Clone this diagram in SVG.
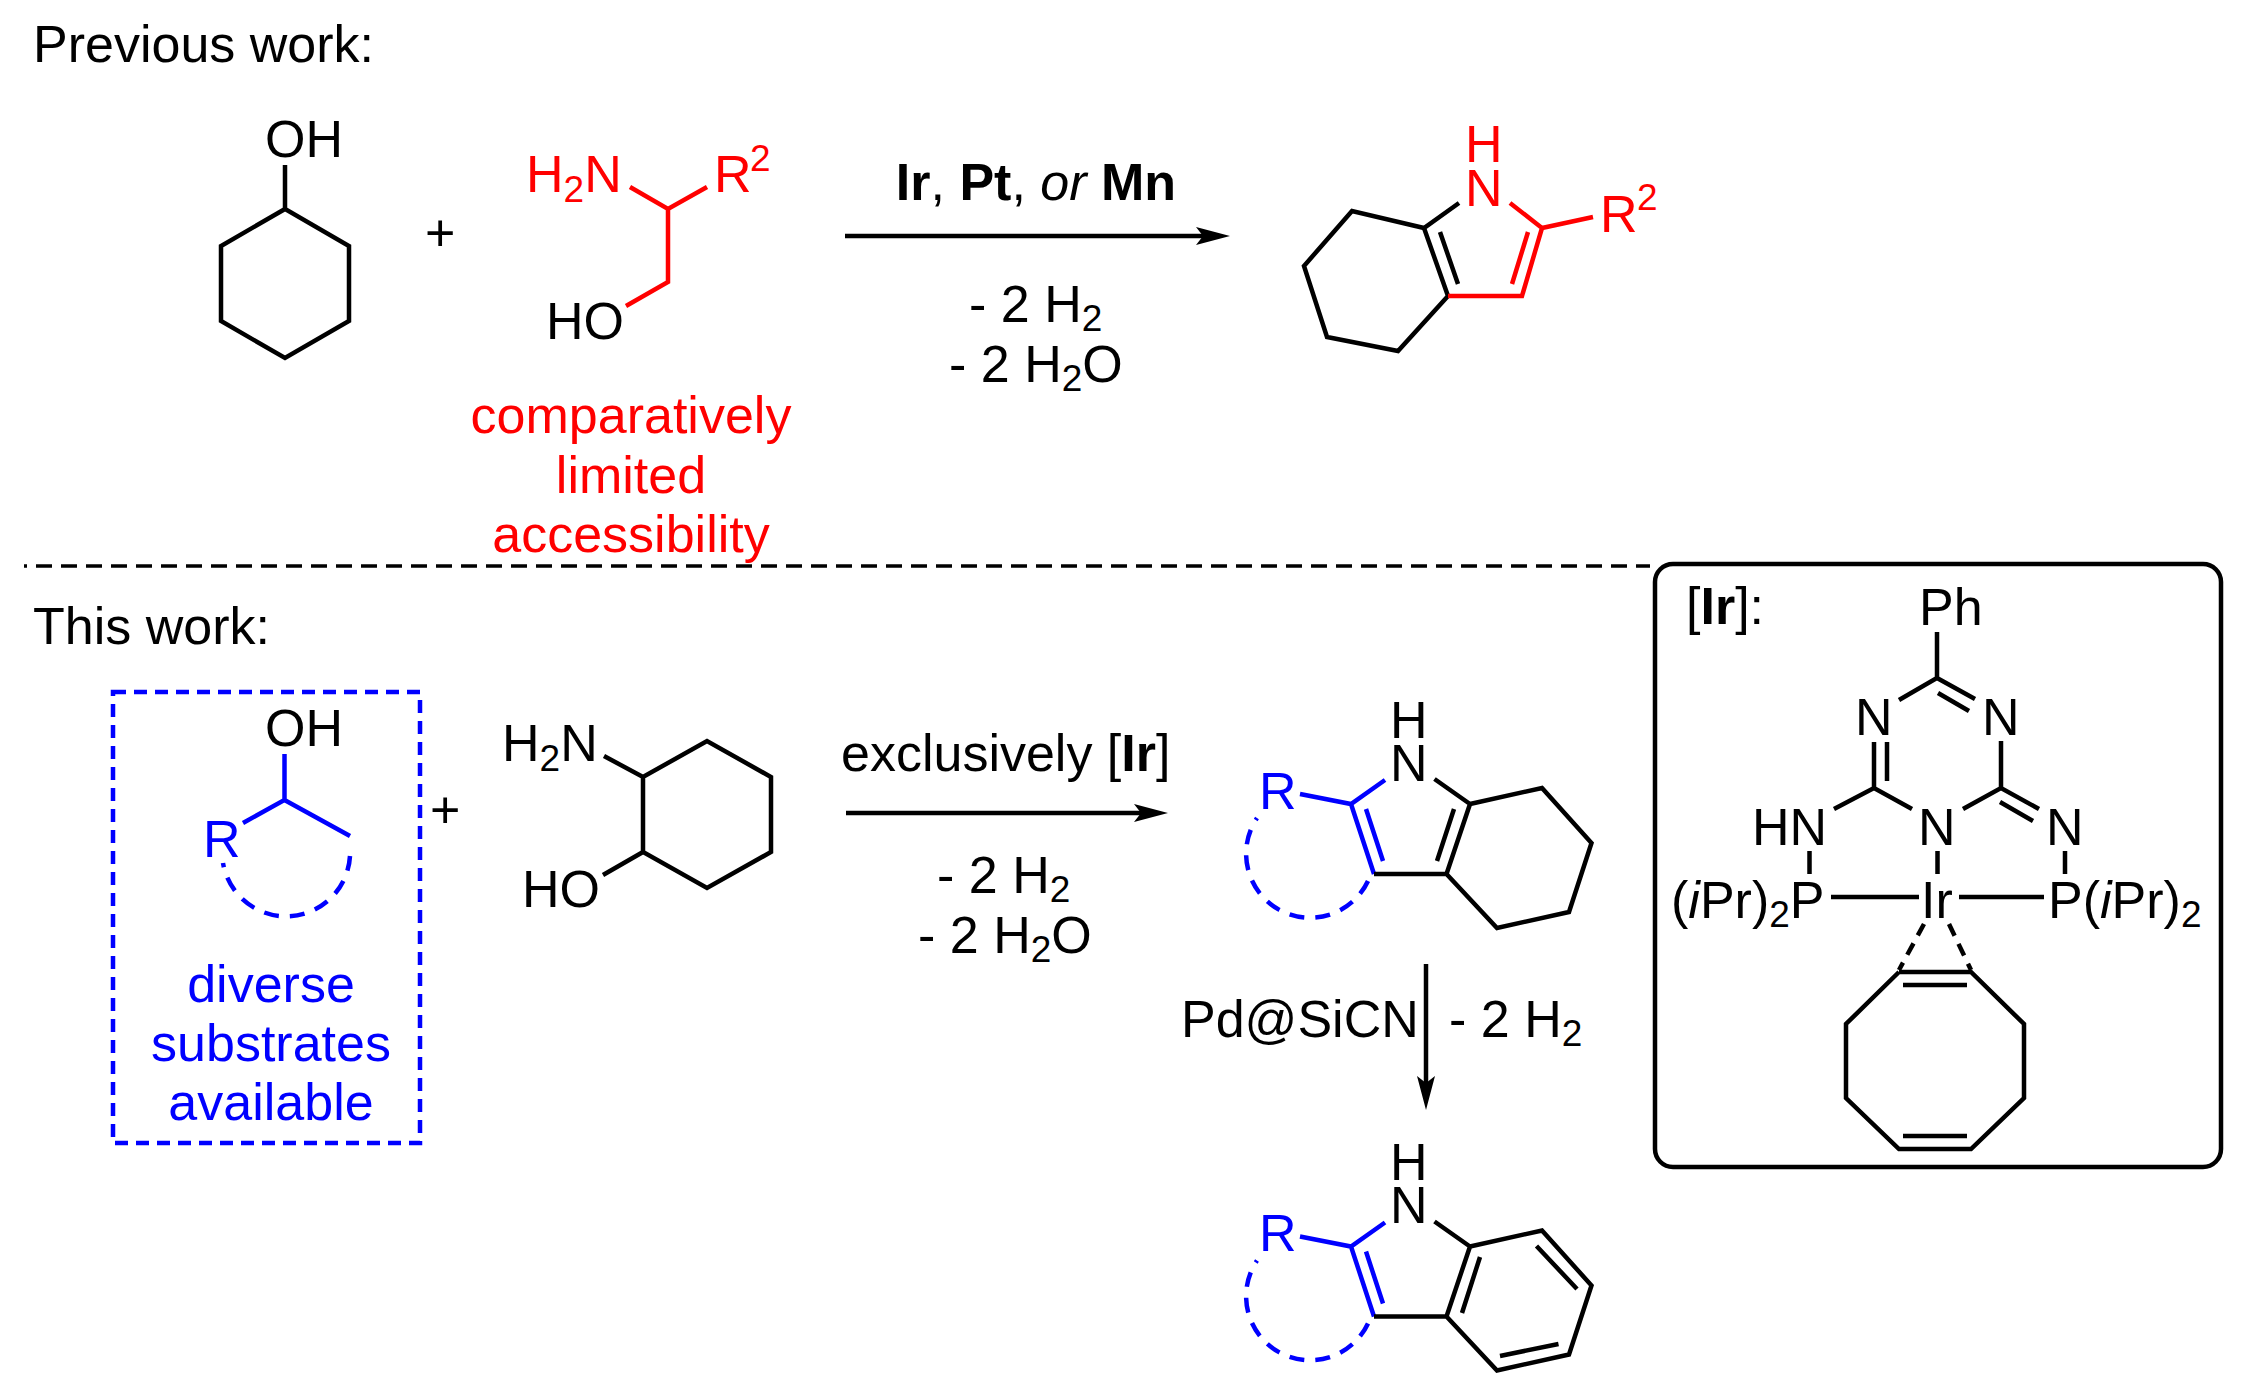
<svg xmlns="http://www.w3.org/2000/svg" width="2262" height="1397" viewBox="0 0 2262 1397">
<style>
text{font-family:"Liberation Sans",Arial,sans-serif;font-size:52px;fill:#000}
.red text,text.red{fill:#f00}
.blu text,text.blu{fill:#00f}
.s{font-size:37px}
.bd{font-weight:bold}
.it{font-style:italic}
.m{text-anchor:middle}
path,line,rect{fill:none;stroke-linejoin:miter}
.k{stroke:#000;stroke-width:4.500}
.rl{stroke:#f00;stroke-width:4.500}
.bl{stroke:#00f;stroke-width:4.500}
.dk{stroke:#000;stroke-width:4.500;stroke-dasharray:13 9}
.da{stroke:#00f;stroke-width:4.500;stroke-dasharray:15 11}
.db{stroke:#00f;stroke-width:4.500;stroke-dasharray:13 8}
.ar{stroke:#000;stroke-width:4.500}
</style>
<defs>
<marker id="h" markerUnits="userSpaceOnUse" markerWidth="34" markerHeight="18" viewBox="0 0 34 18" refX="7" refY="9" orient="auto"><path d="M0,0L34,9L0,18L7,9Z" style="fill:#000;stroke:none"/></marker>
<g id="pyr-blue">
<path class="bl" d="M1300,794L1351,804L1385,780M1351,804L1374,874M1366,809L1383,861"/>
<path class="da" d="M1368,881A64,64 0 1 1 1257,818"/>
</g>
</defs>
<rect width="2262" height="1397" style="fill:#fff"/>
<g id="connectors">
<line id="divider" x1="24" y1="566" x2="1650" y2="566" style="stroke:#000;stroke-width:3.500;stroke-dasharray:16 9;stroke-dashoffset:13"/>
<line id="arrow-top" class="ar" x1="845" y1="236" x2="1203" y2="236" marker-end="url(#h)"/>
<line id="arrow-mid" class="ar" x1="846" y1="813" x2="1141" y2="813" marker-end="url(#h)"/>
<line id="arrow-down" class="ar" x1="1426" y1="964" x2="1426" y2="1083" marker-end="url(#h)"/>
</g>
<g id="label-previous"><text x="33" y="62">Previous work:</text></g>
<g id="label-this"><text x="33" y="644">This work:</text></g>
<g id="cyclohexanol">
<text x="265" y="157">OH</text>
<path class="k" d="M285,165V209L349,246V321L285,358L221,321V246L285,209"/>
</g>
<g id="plus-top"><text x="425" y="251">+</text></g>
<g id="amino-alcohol">
<g class="red"><text x="526" y="192">H<tspan class="s" dy="10">2</tspan><tspan dy="-10">N</tspan></text>
<text x="714" y="192">R</text><text class="s" x="750" y="171">2</text></g>
<path class="rl" d="M630,187L668,209L707,187M668,209V282L626,306"/>
<text x="546" y="339">HO</text>
</g>
<g id="note-limited" class="red">
<text class="m" x="631" y="433">comparatively</text>
<text class="m" x="631" y="493">limited</text>
<text class="m" x="631" y="552">accessibility</text>
</g>
<g id="conditions-top">
<text class="m" x="1036" y="200"><tspan class="bd">Ir</tspan>, <tspan class="bd">Pt</tspan>, <tspan class="it">or</tspan> <tspan class="bd">Mn</tspan></text>
<text x="969" y="322">- 2 H<tspan class="s" dy="9">2</tspan></text>
<text x="949" y="382">- 2 H<tspan class="s" dy="9">2</tspan><tspan dy="-9">O</tspan></text>
</g>
<g id="product-top">
<path class="k" d="M1459,203L1424,228L1352,211L1304,266L1327,337L1398,351L1448,296L1424,228M1440,232L1458,284"/>
<path class="rl" d="M1448,296H1522L1542,228L1510,203M1528,232L1512,284M1542,228L1593,217"/>
<g class="red"><text x="1465" y="162">H</text><text x="1465" y="206">N</text><text x="1600" y="232">R</text><text class="s" x="1637" y="210">2</text></g>
</g>
<g id="substrate-box">
<rect class="db" x="113" y="692" width="307" height="451"/>
<path class="bl" d="M284.500,754V800L243,823M284.500,800L350,836"/>
<path class="da" d="M350,856A64,64 0 0 1 223,863"/>
<text x="265" y="746">OH</text>
<g class="blu"><text x="203" y="857">R</text>
<text class="m" x="271" y="1002">diverse</text>
<text class="m" x="271" y="1061">substrates</text>
<text class="m" x="271" y="1120">available</text></g>
</g>
<g id="plus-bottom"><text x="430" y="828">+</text></g>
<g id="aminocyclohexanol">
<text x="502" y="761">H<tspan class="s" dy="10">2</tspan><tspan dy="-10">N</tspan></text>
<text x="522" y="907">HO</text>
<path class="k" d="M604,756L643,777L707,741L771,777V852L707,888L643,852V777M643,852L603,875"/>
</g>
<g id="conditions-bottom">
<text x="841" y="771">exclusively [<tspan class="bd">Ir</tspan>]</text>
<text x="937" y="893">- 2 H<tspan class="s" dy="9">2</tspan></text>
<text x="918" y="953">- 2 H<tspan class="s" dy="9">2</tspan><tspan dy="-9">O</tspan></text>
</g>
<g id="product-tetrahydro">
<use href="#pyr-blue"/>
<path class="k" d="M1374,874H1446.500L1470,804L1434.500,779M1454,809L1437,861M1470,804L1542,788L1591.500,843L1569,912L1497,928L1446.500,874"/>
<text x="1390" y="738">H</text><text x="1390" y="781">N</text>
<text class="blu" x="1259" y="809">R</text>
</g>
<g id="conditions-pd">
<text x="1181" y="1037">Pd@SiCN</text>
<text x="1449" y="1037">- 2 H<tspan class="s" dy="9">2</tspan></text>
</g>
<g id="product-indole">
<use href="#pyr-blue" y="442.500"/>
<path class="k" d="M1374,1316.500H1446.500L1470,1246.500L1434.500,1221.500M1480,1257L1462,1313M1470,1246.500L1542,1230.500L1591.500,1285.500L1569,1354.500L1497,1370.500L1446.500,1316.500M1536.500,1246L1577,1289M1500,1356L1558.500,1344"/>
<text x="1390" y="1180">H</text><text x="1390" y="1223">N</text>
<text class="blu" x="1259" y="1251">R</text>
</g>
<g id="catalyst-box">
<rect x="1655" y="564" width="566" height="603" rx="18" ry="18" style="stroke:#000;stroke-width:4.500"/>
<text x="1686" y="624">[<tspan class="bd">Ir</tspan>]:</text>
<text x="1919" y="625">Ph</text>
<text x="1855" y="735">N</text><text x="1982" y="735">N</text>
<text x="1752" y="845">HN</text><text x="1918" y="845">N</text><text x="2046" y="845">N</text>
<text x="1671" y="918">(<tspan class="it">i</tspan>Pr)<tspan class="s" dy="9">2</tspan><tspan dy="-9">P</tspan></text>
<text x="1921" y="918">Ir</text>
<text x="2048" y="918">P(<tspan class="it">i</tspan>Pr)<tspan class="s" dy="9">2</tspan></text>
<path class="k" d="M1937,632V678L1899,700M1937,678L1975,699M1938,693L1969,711M1874,742V788M1887,742V781M2001,741V788M1834,809L1874,788L1912,809M1963,809L2001,788L2039,809M2000,802L2033,821M1809.500,851V874M1937.500,851V874M2065,851V874M1831,897H1919M1959,897H2044"/>
<path class="dk" d="M1924,924L1899,970M1949,924L1971,970"/>
<path class="k" d="M1899,972H1971L2024,1024V1098L1971,1149H1899L1846,1098V1024L1899,972M1903,985H1967M1903,1136H1967"/>
</g>
</svg>
